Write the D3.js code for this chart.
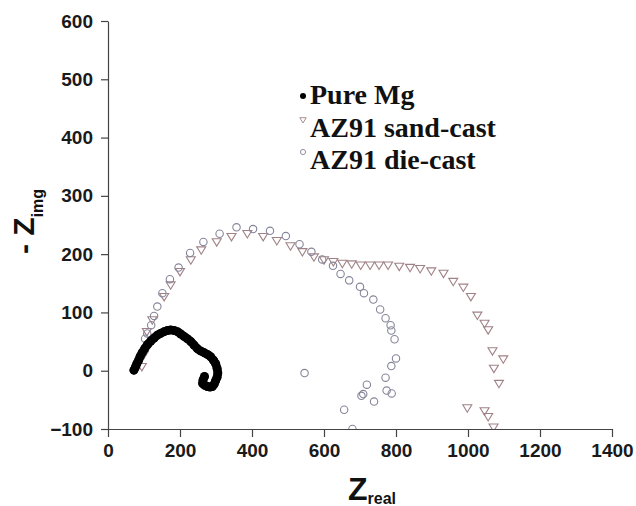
<!doctype html>
<html>
<head>
<meta charset="utf-8">
<script src="https://cdnjs.cloudflare.com/ajax/libs/d3/7.8.5/d3.min.js"></script>
<style>
  body { margin: 0; background: #fff; }
  svg { display: block; }
  .tick text { font-family: "Liberation Sans", Arial, sans-serif; font-weight: bold; font-size: 19px; fill: #1a1a1a; }
  .legend text { font-family: "Liberation Serif", "Times New Roman", serif; font-weight: bold; font-size: 28px; fill: #111; }
</style>
</head>
<body>
<svg width="636" height="506"></svg>
<script>
// tick values
var xTicks = [0, 200, 400, 600, 800, 1000, 1200, 1400];
var xMinor = [100, 300, 500, 700, 900, 1100, 1300];
var yTicks = [-100, 0, 100, 200, 300, 400, 500, 600];
var yMinor = [-50, 50, 150, 250, 350, 450, 550];

var legendNames = ["Pure Mg", "AZ91 sand-cast", "AZ91 die-cast"];

// Pure Mg  (Zreal, -Zimg)
var pureMg = [
  [72,1],[76,6],[80,12],[85,18],[89,24],[95,31],[102,38],[110,45],[119,51],[128,56],
  [137,61],[146,64],[156,67],[165,69],[174,70],[184,69],[193,67],[202,63],[211,59],[220,55],
  [230,50],[239,44],[248,38],[257,34],[267,31],[276,28],[285,24],[293,18],[299,12],[303,4],
  [305,-4],[303,-11],[299,-17],[295,-23],[290,-27],[283,-28],[276,-27],[269,-25],[263,-22],[264,-16],[268,-10]
];

// AZ91 sand-cast
var sandCast = [
  [94,7],[100,28],[108,67],[123,87],[156,127],[174,147],[200,170],[230,190],[259,207],[302,221],
  [343,230],[387,235],[431,230],[469,223],[507,214],[540,204],[572,195],[600,190],[626,187],[651,184],
  [677,183],[702,181],[728,181],[753,181],[778,181],[809,179],[839,177],[867,175],[898,171],[932,167],
  [959,153],[987,143],[1008,127],[1026,95],[1046,81],[1056,70],[1068,34],[1098,20],[1072,4],[1086,-22],
  [998,-64],[1046,-69],[1056,-79],[1071,-97]
];

// AZ91 die-cast
var dieCast = [
  [103,55],[109,64],[120,78],[128,94],[137,110],[151,133],[172,157],[196,177],[228,202],[265,221],
  [310,235],[357,246],[403,243],[450,240],[494,231],[532,217],[565,204],[595,191],[625,180],[646,166],
  [670,155],[700,144],[711,133],[737,122],[756,105],[771,90],[785,78],[787,69],[796,54],[800,21],
  [787,8],[771,-12],[774,-34],[788,-39],[719,-24],[709,-40],[704,-43],[739,-53],[656,-67],[546,-4],
  [679,-100]
];

var svg = d3.select("svg");
var x = d3.scaleLinear().domain([0, 1400]).range([108, 612]);
var y = d3.scaleLinear().domain([-100, 600]).range([429, 21]);

svg.append("defs").append("clipPath").attr("id", "plot")
  .append("rect").attr("x", 0).attr("y", 0).attr("width", 636).attr("height", y(-100));

var axisColor = "#444";

// axes
var gx = svg.append("g").attr("transform", "translate(0," + y(-100) + ")");
gx.call(d3.axisBottom(x).tickValues(xMinor).tickSize(4).tickFormat(""));
gx.call(d3.axisBottom(x).tickValues(xTicks).tickSize(8).tickSizeOuter(0).tickFormat(d3.format("d")));
gx.selectAll("text").attr("y", 28).attr("dy", null);

var gy = svg.append("g").attr("transform", "translate(" + x(0) + ",0)");
gy.call(d3.axisLeft(y).tickValues(yMinor).tickSize(4).tickFormat(""));
gy.call(d3.axisLeft(y).tickValues(yTicks).tickSize(7).tickSizeOuter(0).tickFormat(d3.format("d")));
gy.selectAll("text").attr("x", -15);

svg.selectAll(".domain").attr("stroke", axisColor).attr("stroke-width", 1.2);
svg.selectAll(".tick line").attr("stroke", axisColor).attr("stroke-width", 1.2);

var plot = svg.append("g").attr("clip-path", "url(#plot)");

var triPath = "M-4.5,-3.2L4.5,-3.2L0,4.2Z";
var triColor = "#a08286";
var circColor = "#85859a";

plot.selectAll("path.tri").data(sandCast).enter().append("path")
  .attr("class", "tri")
  .attr("d", triPath)
  .attr("transform", function(d) { return "translate(" + x(d[0]) + "," + y(d[1]) + ")"; })
  .attr("fill", "none").attr("stroke", triColor).attr("stroke-width", 1.1);

plot.selectAll("circle.die").data(dieCast).enter().append("circle")
  .attr("class", "die")
  .attr("cx", function(d) { return x(d[0]); })
  .attr("cy", function(d) { return y(d[1]); })
  .attr("r", 3.7)
  .attr("fill", "none").attr("stroke", circColor).attr("stroke-width", 1.1);

// Pure Mg: dense black points forming a thick band
var line = d3.line().x(function(d) { return x(d[0]); }).y(function(d) { return y(d[1]); })
  .curve(d3.curveCatmullRom);
plot.append("path").datum(pureMg)
  .attr("d", line)
  .attr("fill", "none").attr("stroke", "#000").attr("stroke-width", 8.5)
  .attr("stroke-linecap", "round").attr("stroke-linejoin", "round");
plot.selectAll("circle.mg").data(pureMg).enter().append("circle")
  .attr("class", "mg")
  .attr("cx", function(d) { return x(d[0]); })
  .attr("cy", function(d) { return y(d[1]); })
  .attr("r", 4.5).attr("fill", "#000");

// legend
var lg = svg.append("g").attr("class", "legend");
var lgBase = [104, 137, 169];
lg.selectAll("text").data(legendNames).enter().append("text")
  .attr("x", 310).attr("y", function(d, i) { return lgBase[i]; })
  .text(function(d) { return d; });
lg.append("circle").attr("cx", 303).attr("cy", 96).attr("r", 3).attr("fill", "#000");
lg.append("path").attr("d", "M-3.2,-2.3L3.2,-2.3L0,3Z")
  .attr("transform", "translate(303,120)")
  .attr("fill", "none").attr("stroke", triColor).attr("stroke-width", 0.9);
lg.append("circle").attr("cx", 303).attr("cy", 152).attr("r", 2.6)
  .attr("fill", "none").attr("stroke", circColor).attr("stroke-width", 0.9);

// axis titles
var xt = svg.append("text").attr("x", 348).attr("y", 500)
  .style("font-family", "Liberation Sans, Arial, sans-serif").style("font-weight", "bold")
  .style("font-size", "32px").attr("fill", "#111");
xt.append("tspan").text("Z");
xt.append("tspan").attr("dy", 4).style("font-size", "16px").text("real");

var yt = svg.append("text").attr("transform", "translate(34,254) rotate(-90)")
  .style("font-family", "Liberation Sans, Arial, sans-serif").style("font-weight", "bold")
  .style("font-size", "30px").attr("fill", "#111");
yt.append("tspan").text("- Z");
yt.append("tspan").attr("dy", 9).style("font-size", "16px").text("img");
</script>
</body>
</html>
